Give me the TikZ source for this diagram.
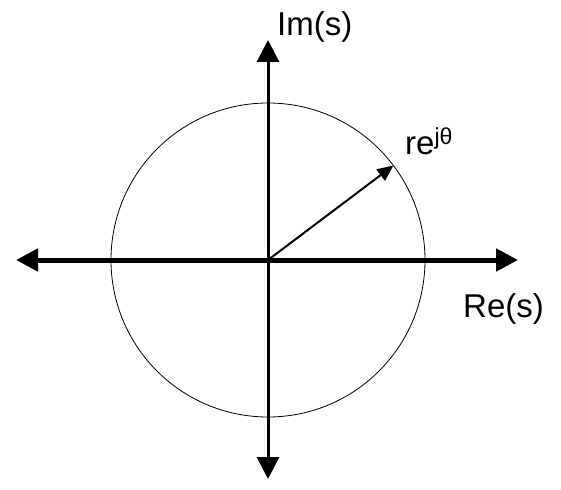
\documentclass[tikz,border=0pt]{standalone}
\usepackage{fontspec}
\setmainfont{Liberation Sans}
\usepackage{tikz}
\usetikzlibrary{arrows.meta, positioning, calc}

\begin{document}
\begin{tikzpicture}[
  x=1pt, y=-1pt,
  axis/.style={{Triangle[length=22pt,width=22pt]}-{Triangle[length=22pt,width=22pt]}},
  vec/.style={-{Triangle[length=16pt,width=14pt]}, line width=2pt},
  lbl/.style={font=\fontsize{33}{38}\selectfont, inner sep=0pt, anchor=base west},
]
\useasboundingbox (0,0) rectangle (561,489);

\coordinate (o) at (268,260);
\coordinate (xl) at (16,260);
\coordinate (xr) at (518,260);
\coordinate (yt) at (268,40);
\coordinate (yb) at (268,479);
\coordinate (p) at ($(o)+(37:157pt)$);

\draw[line width=0.8pt] (o) circle[radius=157pt];
\draw[axis, line width=5pt] (xl) -- (xr);
\draw[axis, line width=3pt] (yb) -- (yt);
\draw[vec] (o) -- (p);

\node[lbl] (im) at (277,36) {Im(s)};
\node[lbl] (re) at (463,317) {Re(s)};
\node[lbl] (rej) at (405,154) {re\textsuperscript{jθ}};
\end{tikzpicture}
\end{document}
